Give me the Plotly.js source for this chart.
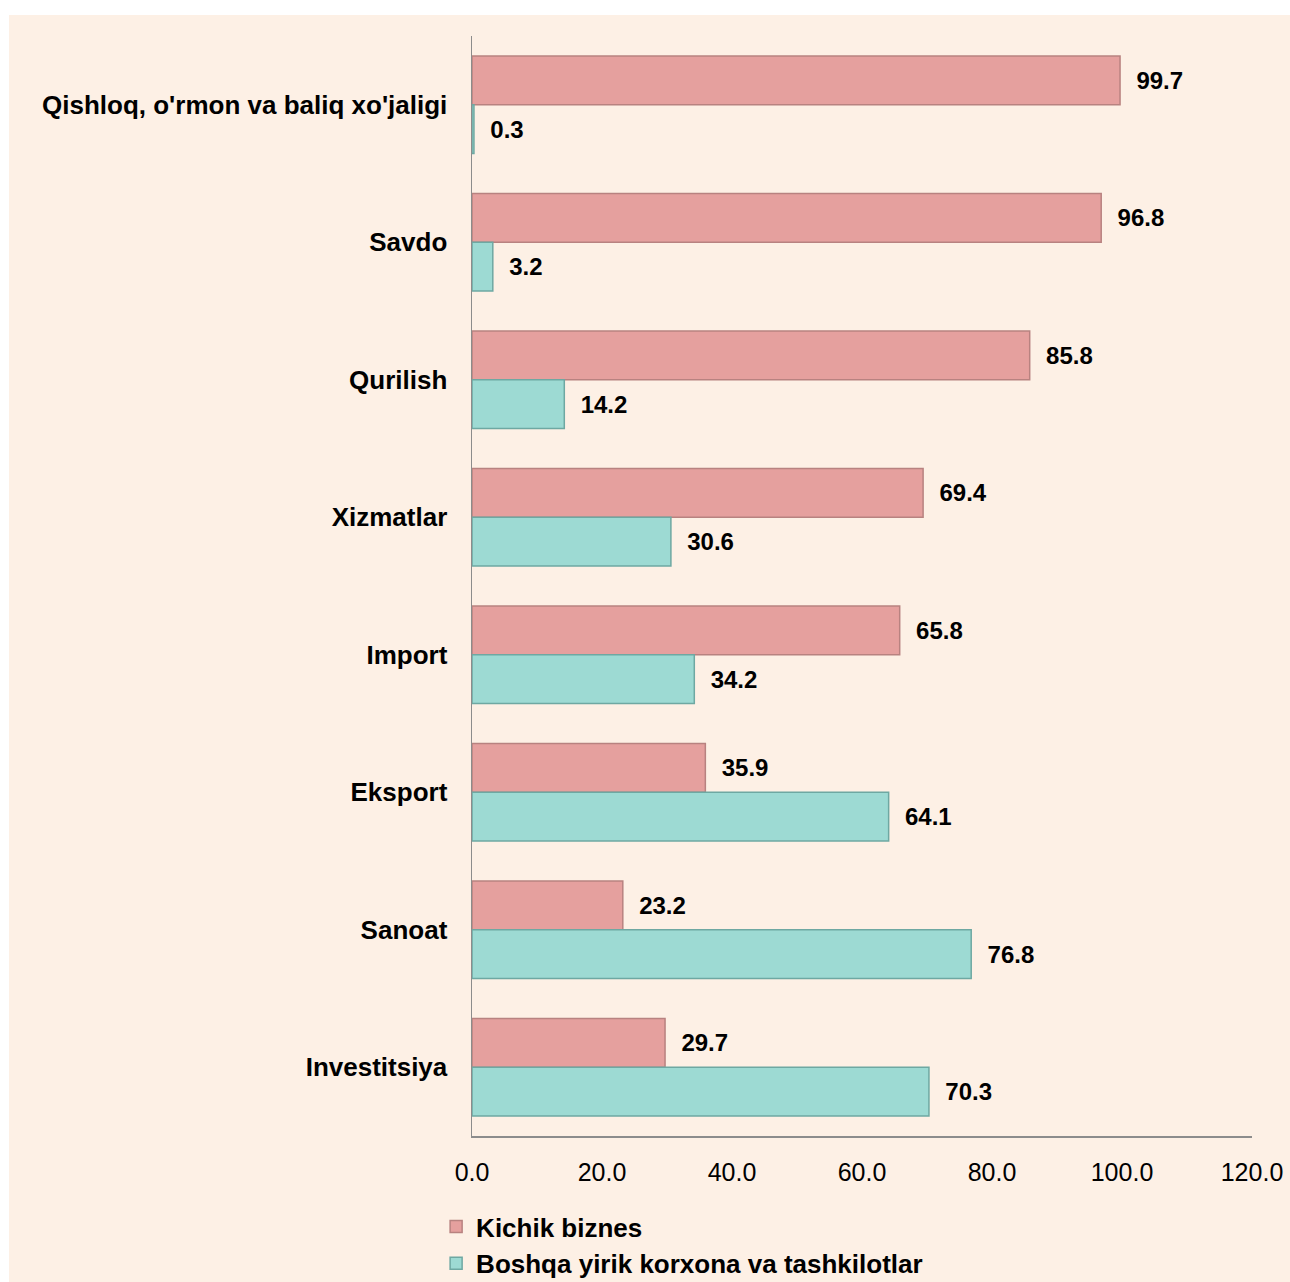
<!DOCTYPE html>
<html>
<head>
<meta charset="utf-8">
<script src="https://cdn.plot.ly/plotly-3.0.1.min.js"></script>
<style>
  html, body { margin: 0; padding: 0; background: #ffffff; }
  #chart { position: absolute; left: 9px; top: 15px; width: 1281px; height: 1267px; }
</style>
</head>
<body>
<div id="chart"></div>
<script>
const categories = [
  "Qishloq, o'rmon va baliq xo'jaligi",
  "Savdo",
  "Qurilish",
  "Xizmatlar",
  "Import",
  "Eksport",
  "Sanoat",
  "Investitsiya"
];
const seriesNames = ["Kichik biznes", "Boshqa yirik korxona va tashkilotlar"];
const kichikBiznes = [99.7, 96.8, 85.8, 69.4, 65.8, 35.9, 23.2, 29.7];
const boshqaYirik = [0.3, 3.2, 14.2, 30.6, 34.2, 64.1, 76.8, 70.3];
const tickValues = [0, 20, 40, 60, 80, 100, 120];
const tickLabels = ["0.0", "20.0", "40.0", "60.0", "80.0", "100.0", "120.0"];

const FAM = "Liberation Sans";
const labelFont = { family: FAM, size: 24, color: "#000000", weight: "bold" };

const traces = [
  {
    type: "bar", orientation: "h", name: seriesNames[0],
    y: categories, x: kichikBiznes,
    marker: { color: "#E5A09E", line: { color: "#B88280", width: 1.5 } },
    text: kichikBiznes.map(v => v.toFixed(1)),
    texttemplate: "  %{text}",
    textposition: "outside", cliponaxis: false,
    textfont: labelFont,
    hoverinfo: "x+y"
  },
  {
    type: "bar", orientation: "h", name: seriesNames[1],
    y: categories, x: boshqaYirik,
    marker: { color: "#9DDAD3", line: { color: "#6EA8A2", width: 1.5 } },
    text: boshqaYirik.map(v => v.toFixed(1)),
    texttemplate: "  %{text}",
    textposition: "outside", cliponaxis: false,
    textfont: labelFont,
    hoverinfo: "x+y"
  }
];

const layout = {
  width: 1281, height: 1267,
  paper_bgcolor: "#FDF0E5",
  plot_bgcolor: "rgba(0,0,0,0)",
  margin: { l: 463, r: 38, t: 21, b: 146, pad: 0, autoexpand: false },
  barmode: "group",
  bargap: 0.29,
  bargroupgap: 0,
  font: { family: FAM, color: "#000000" },
  xaxis: {
    range: [0, 120],
    tickvals: tickValues,
    ticktext: tickLabels,
    showgrid: false, zeroline: false,
    showline: true, linecolor: "#8C8C8C", linewidth: 1.5,
    ticks: "",
    ticklabelstandoff: 13,
    tickfont: { family: FAM, size: 25, color: "#000000" },
    fixedrange: true
  },
  yaxis: {
    autorange: "reversed",
    showgrid: false, zeroline: false,
    showline: true, linecolor: "#8C8C8C", linewidth: 1.5,
    ticks: "",
    ticklabelstandoff: 18,
    tickfont: { family: FAM, size: 26, color: "#000000", weight: "bold" },
    fixedrange: true
  },
  showlegend: true,
  legend: {
    x: -0.046, xanchor: "left",
    y: -0.061, yanchor: "top",
    orientation: "v",
    bgcolor: "rgba(0,0,0,0)",
    font: { family: FAM, size: 26, color: "#000000", weight: "bold" },
    traceorder: "normal",
    itemwidth: 30,
    tracegroupgap: 0
  }
};

Plotly.newPlot("chart", traces, layout, { displayModeBar: false, staticPlot: true });
</script>
</body>
</html>
